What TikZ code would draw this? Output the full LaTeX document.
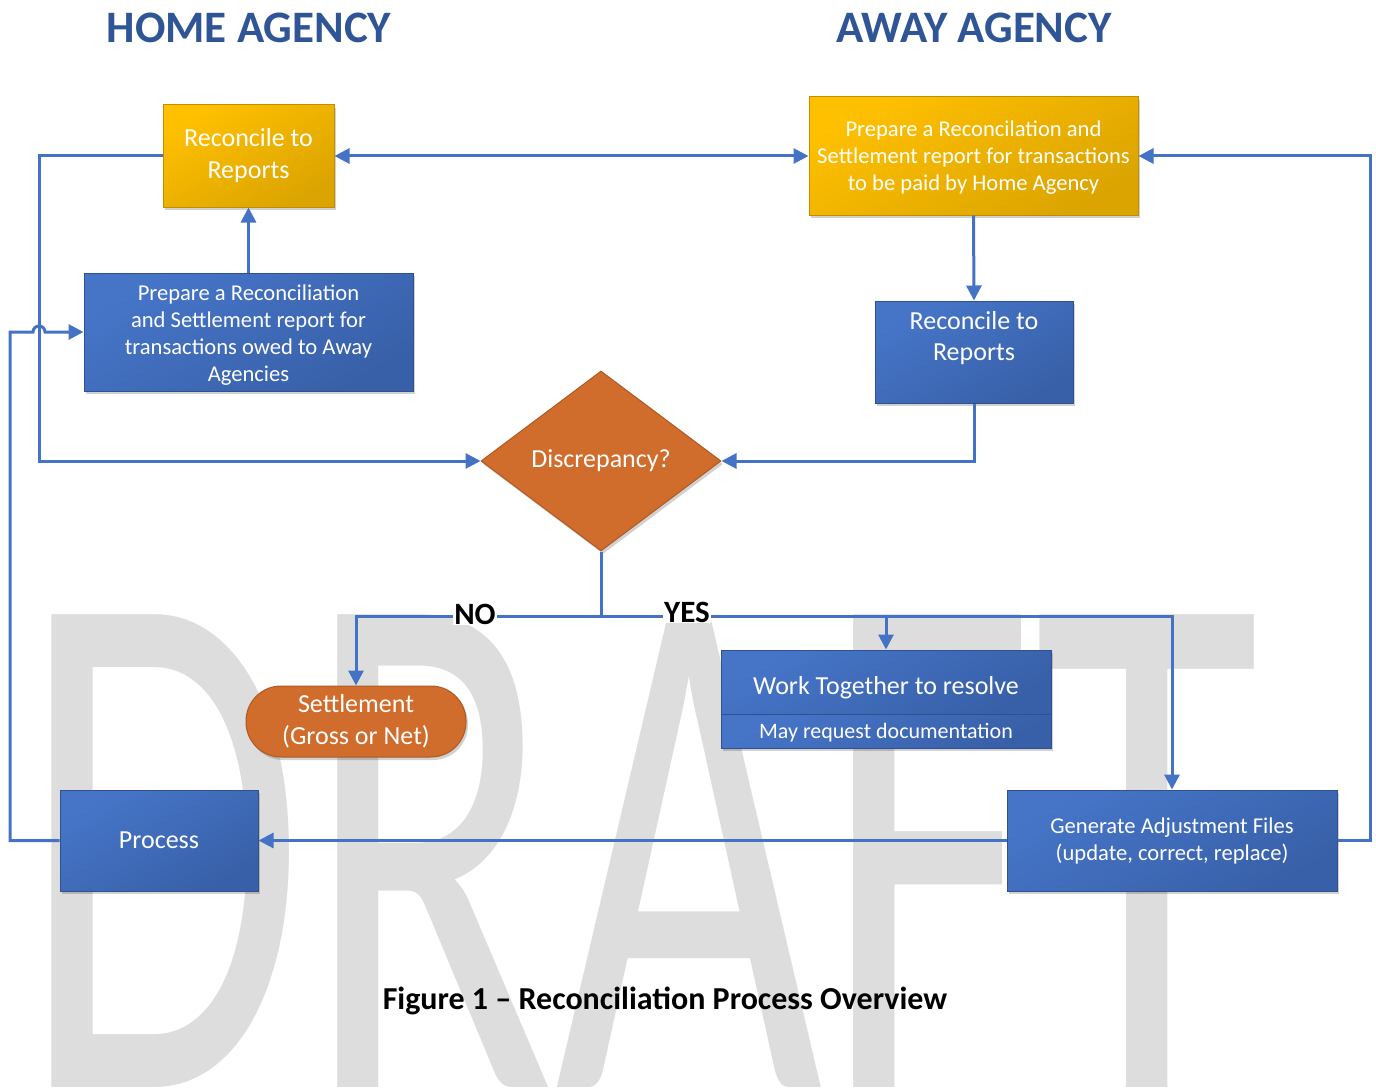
\documentclass[tikz,border=0pt]{standalone}
\usepackage{fontspec}
\setmainfont{Carlito}
\usetikzlibrary{arrows.meta,shapes.geometric,shadows,calc}
\definecolor{conn}{RGB}{68,114,196}
\definecolor{bluetop}{RGB}{70,117,200}
\definecolor{bluebot}{RGB}{56,96,168}
\definecolor{blueedge}{RGB}{47,82,143}
\definecolor{yeltop}{RGB}{255,192,0}
\definecolor{yelbot}{RGB}{219,164,0}
\definecolor{yeledge}{RGB}{191,143,0}
\definecolor{orfill}{RGB}{208,108,44}
\definecolor{oredge}{RGB}{174,90,35}
\definecolor{titleblue}{RGB}{47,85,151}
\definecolor{wm}{RGB}{221,221,221}
\tikzset{
  shd/.style={drop shadow={shadow xshift=2pt,shadow yshift=-3pt,opacity=0.18,fill=black}},
  bluebox/.style={draw=blueedge,line width=1pt,top color=bluetop,bottom color=bluebot,shading angle=30,text=white,align=center,inner sep=0pt,shd},
  yelbox/.style={draw=yeledge,line width=1pt,top color=yeltop,bottom color=yelbot,shading angle=30,text=white,align=center,inner sep=0pt,shd},
  orbox/.style={draw=oredge,line width=1pt,fill=orfill,text=white,align=center,inner sep=0pt,shd},
  conn/.style={draw=conn,line width=3pt,line join=miter},
  arr/.style={conn,-{Triangle[length=15pt,width=15pt]}},
  lbl/.style={fill=white,inner sep=1pt,font=\fontsize{31}{31}\selectfont\bfseries},
  ttl/.style={text=titleblue,font=\fontsize{45}{45}\selectfont\bfseries},
  wtxt/.style={text=white,align=center,inner sep=0pt},
}
\begin{document}
\begin{tikzpicture}[x=1pt,y=-1pt]
\useasboundingbox (0,0) rectangle (1376,1089);
% watermark
\node[anchor=base west,inner sep=0pt,text=wm,font=\fontsize{737}{737}\selectfont] (wmark) at (20,1087) {\scalebox{0.627}[1]{DRAFT}};
% titles
\node[ttl] (th) at (249,28) {HOME AGENCY};
\node[ttl] (ta) at (974,28) {AWAY AGENCY};
% nodes
\node[yelbox,minimum width=171pt,minimum height=102pt,font=\fontsize{26}{32}\selectfont] (hy) at (248.5,156) {Reconcile to\\Reports};
\node[bluebox,minimum width=329pt,minimum height=118pt] (hp) at (248.5,332) {};
\node[wtxt,font=\fontsize{22.6}{27}\selectfont] (hpt) at (248.5,335) {Prepare a Reconciliation\\and Settlement report for\\transactions owed to Away\\Agencies};
\node[yelbox,minimum width=329pt,minimum height=118pt] (ay) at (973.5,156) {};
\node[wtxt,font=\fontsize{22.6}{27}\selectfont] (ayt) at (973.5,158) {Prepare a Reconcilation and\\Settlement report for transactions\\to be paid by Home Agency};
\node[bluebox,minimum width=198pt,minimum height=102pt] (ar) at (974,352) {};
\node[wtxt,font=\fontsize{26}{31}\selectfont] (art) at (974,338) {Reconcile to\\Reports};
\node[orbox,diamond,minimum width=240pt,minimum height=180pt,font=\fontsize{26}{31}\selectfont] (dia) at (601,461) {Discrepancy?};
\node[orbox,rounded corners=35pt,minimum width=220pt,minimum height=71pt,font=\fontsize{26}{32}\selectfont] (set) at (356,721.5) {Settlement\\(Gross or Net)};
\node[bluebox,minimum width=330pt,minimum height=64pt] (wtop) at (886,682) {};
\node[wtxt,font=\fontsize{26}{31}\selectfont] (wtopt) at (886,688) {Work Together to resolve};
\node[bluebox,minimum width=330pt,minimum height=34pt] (wbot) at (886,731) {};
\node[wtxt,font=\fontsize{22}{27}\selectfont] (wbott) at (886,733) {May request documentation};
\node[bluebox,minimum width=330pt,minimum height=101pt,font=\fontsize{22.6}{27}\selectfont] (gen) at (1172,840.5) {Generate Adjustment Files\\(update, correct, replace)};
\node[bluebox,minimum width=198pt,minimum height=101pt,font=\fontsize{26}{31}\selectfont] (proc) at (159,840.5) {Process};
% bend coordinates
\coordinate (xL) at (39,0);
\coordinate (xLL) at (10,0);
\coordinate (xR) at (1370,0);
\coordinate (yB) at (0,616);
\coordinate (hopA) at (33,332);
% connectors
\draw[arr] (hy.west) -- (hy.west -| xL) |- (dia.west);
\draw[arr] (hp.north) -- (hy.south);
\draw[conn,{Triangle[length=15pt,width=15pt]}-{Triangle[length=15pt,width=15pt]}] (hy.east) -- (ay.west);
\draw[arr] (ay.south) -- (ar.north);
\draw[arr] (ar.south) |- (dia.east);
\draw[arr] (dia.south) -- (dia.south |- yB) -| (set.north);
\draw[arr] (dia.south |- yB) -| (gen.north);
\draw[arr] (wtop.north |- yB) -- (wtop.north);
\draw[arr] (gen.east) -- (gen.east -| xR) |- (ay.east);
\draw[arr] (gen.west) -- (proc.east);
\draw[arr] (proc.west) -- (proc.west -| xLL) |- (hopA) arc[start angle=180,end angle=360,radius=6] -- (hp.west);
% labels
\node[lbl] (no) at (475,614) {NO};
\node[lbl] (yes) at (687,612) {YES};
% caption
\node[font=\fontsize{32}{32}\selectfont\bfseries] (cap) at (665,1001) {Figure 1 – Reconciliation Process Overview};
\end{tikzpicture}
\end{document}
